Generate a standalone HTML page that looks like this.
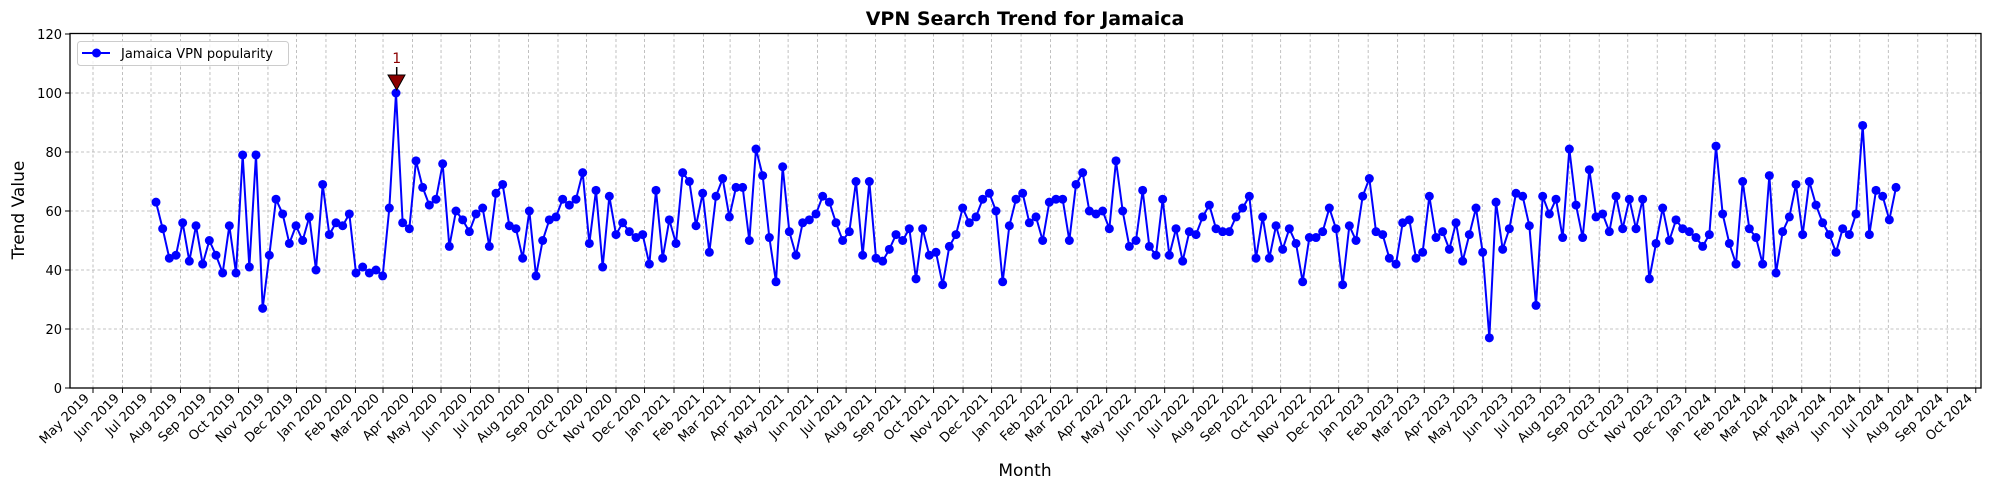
<!DOCTYPE html>
<html><head><meta charset="utf-8"><style>
html,body{margin:0;padding:0;background:#fff;}
svg{display:block;font-family:"DejaVu Sans","Liberation Sans",sans-serif;}
</style></head><body>
<svg id="s" width="1990" height="490" xmlns="http://www.w3.org/2000/svg">
<rect width="1990" height="490" fill="#fff"/>
<g id="grid"></g>
<g id="data"></g>
<rect x="70" y="33.5" width="1911" height="354.5" fill="none" stroke="#000" stroke-width="1.3"/>
<g id="ticks"></g>
<text x="1025" y="25" text-anchor="middle" font-size="19" font-weight="bold">VPN Search Trend for Jamaica</text>
<text x="1025" y="476" text-anchor="middle" font-size="17">Month</text>
<text transform="translate(24,210) rotate(-90)" text-anchor="middle" font-size="17">Trend Value</text>
<g font-size="13" text-anchor="end" fill="#000">
<text x="62" y="393">0</text><text x="62" y="334">20</text><text x="62" y="275">40</text><text x="62" y="216">60</text><text x="62" y="157">80</text><text x="62" y="98">100</text><text x="62" y="39">120</text>
</g>
<g id="xl" font-size="13" text-anchor="end">
<text transform="translate(90,399) rotate(-45)">May 2019</text>
<text transform="translate(120,399) rotate(-45)">Jun 2019</text>
<text transform="translate(148,399) rotate(-45)">Jul 2019</text>
<text transform="translate(178,399) rotate(-45)">Aug 2019</text>
<text transform="translate(207,399) rotate(-45)">Sep 2019</text>
<text transform="translate(236,399) rotate(-45)">Oct 2019</text>
<text transform="translate(265,399) rotate(-45)">Nov 2019</text>
<text transform="translate(294,399) rotate(-45)">Dec 2019</text>
<text transform="translate(323,399) rotate(-45)">Jan 2020</text>
<text transform="translate(353,399) rotate(-45)">Feb 2020</text>
<text transform="translate(380,399) rotate(-45)">Mar 2020</text>
<text transform="translate(410,399) rotate(-45)">Apr 2020</text>
<text transform="translate(438,399) rotate(-45)">May 2020</text>
<text transform="translate(468,399) rotate(-45)">Jun 2020</text>
<text transform="translate(496,399) rotate(-45)">Jul 2020</text>
<text transform="translate(526,399) rotate(-45)">Aug 2020</text>
<text transform="translate(555,399) rotate(-45)">Sep 2020</text>
<text transform="translate(584,399) rotate(-45)">Oct 2020</text>
<text transform="translate(613,399) rotate(-45)">Nov 2020</text>
<text transform="translate(642,399) rotate(-45)">Dec 2020</text>
<text transform="translate(671,399) rotate(-45)">Jan 2021</text>
<text transform="translate(701,399) rotate(-45)">Feb 2021</text>
<text transform="translate(727,399) rotate(-45)">Mar 2021</text>
<text transform="translate(757,399) rotate(-45)">Apr 2021</text>
<text transform="translate(785,399) rotate(-45)">May 2021</text>
<text transform="translate(815,399) rotate(-45)">Jun 2021</text>
<text transform="translate(843,399) rotate(-45)">Jul 2021</text>
<text transform="translate(873,399) rotate(-45)">Aug 2021</text>
<text transform="translate(902,399) rotate(-45)">Sep 2021</text>
<text transform="translate(931,399) rotate(-45)">Oct 2021</text>
<text transform="translate(960,399) rotate(-45)">Nov 2021</text>
<text transform="translate(989,399) rotate(-45)">Dec 2021</text>
<text transform="translate(1018,399) rotate(-45)">Jan 2022</text>
<text transform="translate(1048,399) rotate(-45)">Feb 2022</text>
<text transform="translate(1074,399) rotate(-45)">Mar 2022</text>
<text transform="translate(1104,399) rotate(-45)">Apr 2022</text>
<text transform="translate(1132,399) rotate(-45)">May 2022</text>
<text transform="translate(1162,399) rotate(-45)">Jun 2022</text>
<text transform="translate(1190,399) rotate(-45)">Jul 2022</text>
<text transform="translate(1220,399) rotate(-45)">Aug 2022</text>
<text transform="translate(1249,399) rotate(-45)">Sep 2022</text>
<text transform="translate(1278,399) rotate(-45)">Oct 2022</text>
<text transform="translate(1307,399) rotate(-45)">Nov 2022</text>
<text transform="translate(1336,399) rotate(-45)">Dec 2022</text>
<text transform="translate(1365,399) rotate(-45)">Jan 2023</text>
<text transform="translate(1395,399) rotate(-45)">Feb 2023</text>
<text transform="translate(1421,399) rotate(-45)">Mar 2023</text>
<text transform="translate(1451,399) rotate(-45)">Apr 2023</text>
<text transform="translate(1479,399) rotate(-45)">May 2023</text>
<text transform="translate(1509,399) rotate(-45)">Jun 2023</text>
<text transform="translate(1537,399) rotate(-45)">Jul 2023</text>
<text transform="translate(1567,399) rotate(-45)">Aug 2023</text>
<text transform="translate(1596,399) rotate(-45)">Sep 2023</text>
<text transform="translate(1625,399) rotate(-45)">Oct 2023</text>
<text transform="translate(1654,399) rotate(-45)">Nov 2023</text>
<text transform="translate(1683,399) rotate(-45)">Dec 2023</text>
<text transform="translate(1712,399) rotate(-45)">Jan 2024</text>
<text transform="translate(1742,399) rotate(-45)">Feb 2024</text>
<text transform="translate(1769,399) rotate(-45)">Mar 2024</text>
<text transform="translate(1799,399) rotate(-45)">Apr 2024</text>
<text transform="translate(1827,399) rotate(-45)">May 2024</text>
<text transform="translate(1857,399) rotate(-45)">Jun 2024</text>
<text transform="translate(1885,399) rotate(-45)">Jul 2024</text>
<text transform="translate(1915,399) rotate(-45)">Aug 2024</text>
<text transform="translate(1944,399) rotate(-45)">Sep 2024</text>
<text transform="translate(1973,399) rotate(-45)">Oct 2024</text>
</g>
<!-- annotation -->
<line x1="396.7" y1="67" x2="396.7" y2="76" stroke="#000" stroke-width="1.5"/>
<polygon points="388,75 405,75 396.7,90" fill="#8b0000" stroke="#000" stroke-width="1"/>
<text x="396.7" y="63" text-anchor="middle" font-size="14" fill="#8b0000">1</text>
<!-- legend -->
<rect x="77.5" y="41.5" width="211" height="24" rx="3" fill="#fff" fill-opacity="0.8" stroke="#ccc"/>
<line x1="82" y1="53" x2="110" y2="53" stroke="#00f" stroke-width="2"/>
<circle cx="96.5" cy="53" r="4.5" fill="#00f"/>
<text x="121" y="58" font-size="13">Jamaica VPN popularity</text>
</svg>
<script>
var V=[63,54,44,45,56,43,55,42,50,45,39,55,39,79,41,79,27,45,64,59,49,55,50,58,40,69,52,56,55,59,39,41,39,40,38,61,100,56,54,77,68,62,64,76,48,
60,57,53,59,61,48,66,69,55,54,44,60,38,50,57,58,64,62,64,73,49,67,41,65,52,56,53,51,52,42,67,44,57,49,73,70,55,66,46,65,71,58,68,68,50,81,72,51,36,75,53,45,56,57,59,65,63,56,50,
53,70,45,70,44,43,47,52,50,54,37,54,45,46,35,48,52,61,56,58,64,66,60,36,55,64,66,56,58,50,63,64,64,50,69,73,60,59,60,54,77,60,48,50,67,48,45,64,45,54,43,53,52,58,62,54,53,53,
58,61,65,44,58,44,55,47,54,49,36,51,51,53,61,54,35,55,50,65,71,53,52,44,42,56,57,44,46,65,51,53,47,56,43,52,61,46,17,63,47,54,66,65,55,28,65,59,64,51,81,
62,51,74,58,59,53,65,54,64,54,64,37,49,61,50,57,54,53,51,48,52,82,59,49,42,70,54,51,42,72,39,53,58,69,52,70,62,56,52,46,54,52,59,89,52,67,65,57,68];
var NS="http://www.w3.org/2000/svg";
function el(t,a,p){var e=document.createElementNS(NS,t);for(var k in a)e.setAttribute(k,a[k]);p.appendChild(e);return e;}
var g=document.getElementById('grid'),tk=document.getElementById('ticks'),d=document.getElementById('data');
var days=[0,31,61,92,123,153,184,214,245,276,305,336,366,397,427,458,489,519,550,580,611,642,670,701,731,762,792,823,854,884,915,945,976,1007,1035,1066,1096,1127,1157,1188,1219,1249,1280,1310,1341,1372,1400,1431,1461,1492,1522,1553,1584,1614,1645,1675,1706,1737,1766,1797,1827,1858,1888,1919,1950,1980];
days.forEach(function(dd){var x=93+dd*0.9509;
el('line',{x1:x,x2:x,y1:33.5,y2:388,stroke:'#b0b0b0','stroke-width':0.8,'stroke-dasharray':'3,2.5'},g);
el('line',{x1:x,x2:x,y1:388,y2:393,stroke:'#000','stroke-width':1},tk);});
for(var v=0;v<=120;v+=20){var y=388-v*2.95;
if(v>0&&v<120)el('line',{x1:70,x2:1981,y1:y,y2:y,stroke:'#b0b0b0','stroke-width':0.8,'stroke-dasharray':'3,2.5'},g);
el('line',{x1:65,x2:70,y1:y,y2:y,stroke:'#000','stroke-width':1},tk);}
var pts=V.map(function(v,i){return (156+i*6.6667).toFixed(2)+','+(388-v*2.95).toFixed(2);});
el('polyline',{points:pts.join(' '),fill:'none',stroke:'#00f','stroke-width':2},d);
pts.forEach(function(p){var a=p.split(',');el('circle',{cx:a[0],cy:a[1],r:4.5,fill:'#00f'},d);});
</script>
</body></html>
